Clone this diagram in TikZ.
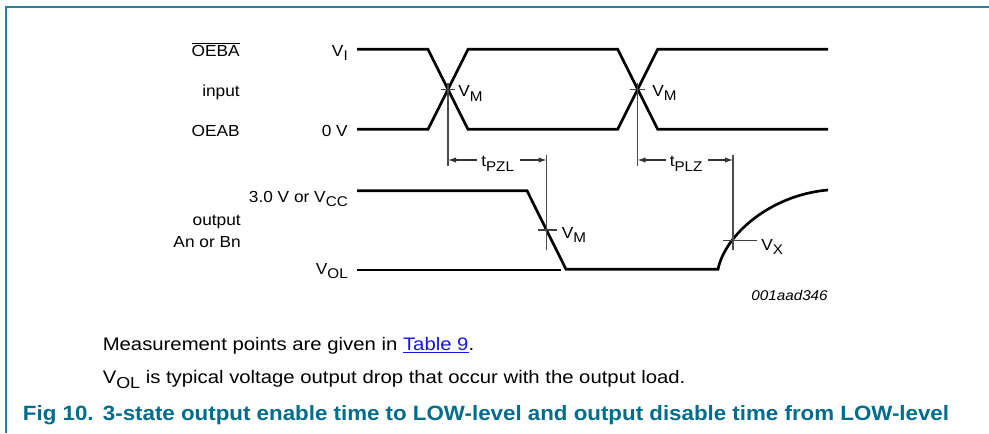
\documentclass[tikz,border=0pt]{standalone}
\usepackage{fontspec}
\usepackage{graphicx}
\usetikzlibrary{arrows.meta}
\setmainfont{Liberation Sans}
\newfontfamily\labfont[FakeStretch=1.08]{Liberation Sans}
\newfontfamily\bodyfont[FakeStretch=1.12]{Liberation Sans}
\newfontfamily\capfont[FakeStretch=1.08]{Liberation Sans}
\newcommand\ssub[1]{\raisebox{-0.28em}{\scalebox{0.88}{#1}}}
\newcommand\ovl[1]{$\overline{\mbox{#1}}$}
\definecolor{framecol}{RGB}{40,128,158}
\definecolor{capcol}{RGB}{0,108,140}
\definecolor{linkcol}{RGB}{20,20,230}
\begin{document}
\begin{tikzpicture}[x=0.75pt,y=-0.75pt,
  sig/.style={line width=2pt, line join=miter},
  guide/.style={line width=0.8pt, black!70},
  tick/.style={line width=0.8pt, black!75},
  dimarrow/.style={line width=0.8pt, black!80, -{Latex[length=6pt,width=4pt]}},
  lbl/.style={inner sep=0pt, font=\labfont\fontsize{12pt}{14pt}\selectfont},
  codelbl/.style={inner sep=0pt, font=\labfont\itshape\fontsize{10.6pt}{13pt}\selectfont},
  body/.style={inner sep=0pt, font=\bodyfont\fontsize{13.6pt}{16pt}\selectfont},
  capstyle/.style={inner sep=0pt, text=capcol, font=\capfont\bfseries\fontsize{15.5pt}{18pt}\selectfont}]
\useasboundingbox (0,0) rectangle (989,433);
% frame
\draw[framecol, line width=1.5pt] (6,433) -- (6,6.5) -- (989,6.5);

% input waveforms
\coordinate (a0) at (357,49.3);
\coordinate (a1) at (428,49.3);
\coordinate (a2) at (468,129.3);
\coordinate (a3) at (617.7,129.3);
\coordinate (a4) at (657.7,49.3);
\coordinate (a5) at (828,49.3);
\coordinate (b0) at (357,129.3);
\coordinate (b1) at (428,129.3);
\coordinate (b2) at (468,49.3);
\coordinate (b3) at (617.7,49.3);
\coordinate (b4) at (657.7,129.3);
\coordinate (b5) at (828,129.3);
\draw[sig] (a0) -- (a1) -- (a2) -- (a3) -- (a4) -- (a5);
\draw[sig] (b0) -- (b1) -- (b2) -- (b3) -- (b4) -- (b5);

% output waveform
\coordinate (o0) at (357,190.7);
\coordinate (o1) at (527,190.7);
\coordinate (o2) at (566,269.3);
\coordinate (o3) at (718,269.3);
\coordinate (o4) at (828,190);
\draw[sig] (o0) -- (o1) -- (o2) -- (o3) .. controls (725,235) and (770,195) .. (o4);
\coordinate (vl0) at (357,270);
\coordinate (vl1) at (561,270);
\draw[line width=1pt] (vl0) -- (vl1);

% crossing points and guides
\coordinate (c1) at (448,89.3);
\coordinate (c2) at (637.5,89.3);
\coordinate (c1t) at (448,83);
\coordinate (c1b) at (448,166);
\coordinate (c2t) at (637.5,83);
\coordinate (c2b) at (637.5,166);
\draw[guide] (c1t) -- (c1b);
\draw[guide] (c2t) -- (c2b);
\draw[tick] (440.5,89.3) -- (455,89.3);
\draw[tick] (630,89.3) -- (645,89.3);

\coordinate (r1t) at (546.7,155);
\coordinate (r1b) at (546.7,250);
\coordinate (r2t) at (733,155);
\coordinate (r2b) at (733,250);
\draw[guide] (r1t) -- (r1b);
\draw[guide] (r2t) -- (r2b);
\draw[tick] (538,230) -- (557,230);
\draw[tick] (723,240.7) -- (757,240.7);

% labels
\node[lbl, anchor=base east] (oeba) at (240,56) {\ovl{OEBA}};
\node[lbl, anchor=base east] (inp) at (240,96.7) {input};
\node[lbl, anchor=base east] (oeab) at (240,136.7) {OEAB};
\node[lbl, anchor=base east] (vi) at (348,56) {V\ssub{I}};
\node[lbl, anchor=base east] (zv) at (348,136.7) {0 V};
\node[lbl, anchor=base west] (vm1) at (458,96.7) {V\ssub{M}};
\node[lbl, anchor=base west] (vm2) at (652,96.5) {V\ssub{M}};
\node[lbl, anchor=base west] (tpzl) at (481,166.7) {t\ssub{PZL}};
\node[lbl, anchor=base west] (tplz) at (669.5,166.7) {t\ssub{PLZ}};
\node[lbl, anchor=base east] (vcc) at (348,202) {3.0 V or V\ssub{CC}};
\node[lbl, anchor=base east] (outl) at (241,225) {output};
\node[lbl, anchor=base east] (anbn) at (241,247.3) {An or Bn};
\node[lbl, anchor=base east] (vol) at (348,274) {V\ssub{OL}};
\node[lbl, anchor=base west] (vm3) at (561.7,238.3) {V\ssub{M}};
\node[lbl, anchor=base west] (vx) at (761,250) {V\ssub{X}};
\node[codelbl, anchor=base east] (code) at (828,300) {001aad346};

% dimension arrows
\coordinate (d1) at (448,160);
\coordinate (d2) at (546.7,160);
\coordinate (d3) at (637.5,160);
\coordinate (d4) at (733,160);
\draw[dimarrow] ([xshift=-3pt]tpzl.west |- d1) -- (d1);
\draw[dimarrow] ([xshift=4pt]tpzl.east |- d2) -- (d2);
\draw[dimarrow] ([xshift=-3pt]tplz.west |- d3) -- (d3);
\draw[dimarrow] ([xshift=4pt]tplz.east |- d4) -- (d4);

% notes
\node[body, anchor=base west] (m1) at (102.5,350.7) {Measurement points are given in \textcolor{linkcol}{\underline{Table 9}}.};
\node[body, anchor=base west] (m2) at (102.5,383) {V\ssub{OL} is typical voltage output drop that occur with the output load.};
\node[capstyle, anchor=base west] (cap) at (22.7,420) {Fig 10.\hspace{0.45em}3-state output enable time to LOW-level and output disable time from LOW-level};
\end{tikzpicture}
\end{document}
